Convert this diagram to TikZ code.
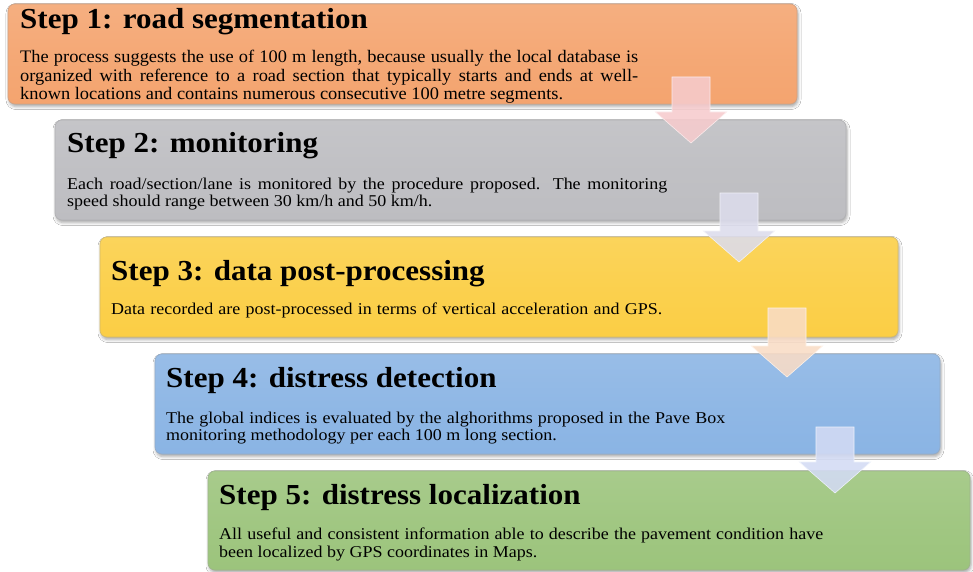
\documentclass[tikz,border=0pt]{standalone}
\usepackage{fontspec}
\setmainfont{Liberation Serif}
\newfontfamily\titlefont[FakeStretch=1.07]{Liberation Serif}
\newfontfamily\bodyAfont[FakeStretch=1.045]{Liberation Serif}
\newfontfamily\bodyBfont[FakeStretch=1.09]{Liberation Serif}
\usetikzlibrary{shadows.blur,calc}
\definecolor{cOrange}{HTML}{F4A46F}
\definecolor{cGray}{HTML}{BDBDC1}
\definecolor{cYellow}{HTML}{FBCE45}
\definecolor{cBlue}{HTML}{8AB4E4}
\definecolor{cGreen}{HTML}{9CC47C}
\definecolor{aPink}{HTML}{F6CBCD}
\definecolor{aLav}{HTML}{DCDCEC}
\definecolor{aPeach}{HTML}{F9DCC6}
\definecolor{aBlue}{HTML}{D3DBF4}
\newcommand\blockarr[5]{% name, cx, top, tip, colour
  \coordinate (#1s) at (#2,#3);
  \coordinate (#1e) at (#2,#4);
  \path[arrowbody=#5] ($(#1s)+(-19,0)$) -- ($(#1s)+(19,0)$) -- ($(#1e)+(19,-31)$) -- ($(#1e)+(35.5,-31)$)
     -- (#1e) -- ($(#1e)+(-35.5,-31)$) -- ($(#1e)+(-19,-31)$) -- cycle;}
\begin{document}
\begin{tikzpicture}[x=1pt,y=-1pt,
  stepbox/.style={rounded corners=7pt, draw=#1!80!black!75, line width=0.7pt,
    top color=#1!88!white, bottom color=#1, middle color=#1!95!white,
    inner sep=0pt, outer sep=0pt, anchor=north west,
    blur shadow={shadow xshift=1pt, shadow yshift=-2.5pt, shadow blur radius=3pt, shadow opacity=35}},
  titletext/.style={font=\titlefont\fontsize{29}{29}\selectfont\bfseries, inner sep=0pt, anchor=base west},
  bodyA/.style={font=\bodyAfont\fontsize{17.6}{17.6}\selectfont, inner sep=0pt, anchor=base west},
  bodyB/.style={font=\bodyBfont\fontsize{16.5}{16.5}\selectfont, inner sep=0pt, anchor=base west},
  arrowbody/.style={fill=#1, fill opacity=0.88, draw=white!60!#1, line width=0.6pt}]
\useasboundingbox (0,0) rectangle (973,572);
\fill[white] (0,0) rectangle (973,572);

% boxes
\node[stepbox=cOrange, minimum width=789pt, minimum height=100pt] (b1) at (8,4) {};
\node[stepbox=cGray,   minimum width=791pt, minimum height=100pt] (b2) at (55,120) {};
\node[stepbox=cYellow, minimum width=798pt, minimum height=100pt] (b3) at (100,237) {};
\node[stepbox=cBlue,   minimum width=785pt, minimum height=100pt] (b4) at (155,354) {};
\node[stepbox=cGreen,  minimum width=762pt, minimum height=99pt]  (b5) at (208,471) {};

% step 1
\node[titletext] (t1) at (20,29) {Step 1: road segmentation};
\node[bodyA] (s1a) at (20,63) {\makebox[618pt][s]{The process suggests the use of 100 m length, because usually the local database is}};
\node[bodyA] (s1b) at (20,81.5) {\makebox[618pt][s]{organized with reference to a road section that typically starts and ends at well-}};
\node[bodyA] (s1c) at (20,100) {known locations and contains numerous consecutive 100 metre segments.};

% step 2
\node[titletext] (t2) at (67,153) {Step 2: monitoring};
\node[bodyB] (s2a) at (67,189) {\makebox[600pt][s]{Each road/section/lane is monitored by the procedure proposed. The monitoring}};
\node[bodyB] (s2b) at (67,206.5) {speed should range between 30 km/h and 50 km/h.};

% step 3
\node[titletext] (t3) at (111,280) {Step 3: data post-processing};
\node[bodyB] (s3a) at (111,314.5) {\makebox[551pt][s]{Data recorded are post-processed in terms of vertical acceleration and GPS.}};

% step 4
\node[titletext] (t4) at (166,387) {Step 4: distress detection};
\node[bodyB] (s4a) at (166,423) {\makebox[559pt][s]{The global indices is evaluated by the alghorithms proposed in the Pave Box}};
\node[bodyB] (s4b) at (166,440.5) {monitoring methodology per each 100 m long section.};

% step 5
\node[titletext] (t5) at (219,504) {Step 5: distress localization};
\node[bodyB] (s5a) at (219,539.5) {\makebox[604pt][s]{All useful and consistent information able to describe the pavement condition have}};
\node[bodyB] (s5b) at (219,557) {been localized by GPS coordinates in Maps.};

% arrows
\blockarr{a1}{691}{77}{143}{aPink}
\blockarr{a2}{739}{193}{262}{aLav}
\blockarr{a3}{787}{308}{377}{aPeach}
\blockarr{a4}{835}{427}{493}{aBlue}
\end{tikzpicture}
\end{document}
